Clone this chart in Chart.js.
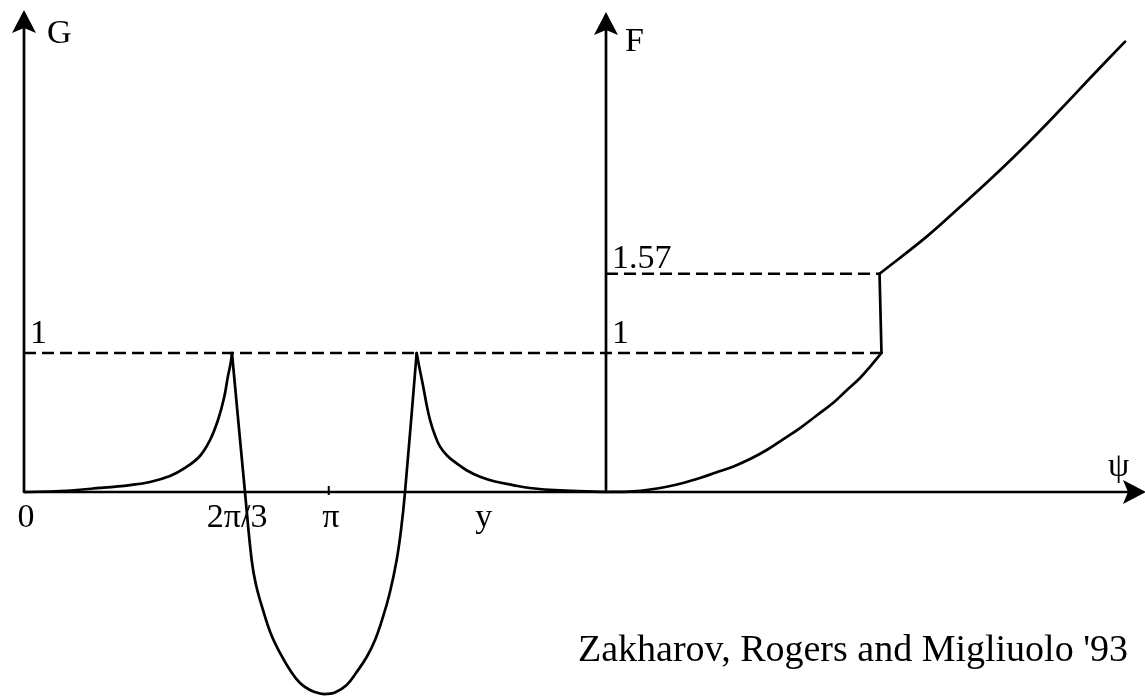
<!DOCTYPE html>
<html>
<head>
<meta charset="utf-8">
<title>G and F versus psi</title>
<script src="https://cdn.jsdelivr.net/npm/chart.js@4.4.0/dist/chart.umd.min.js"></script>
<style>
  html, body { margin: 0; padding: 0; background: #fff; }
  canvas { display: block; }
</style>
</head>
<body>
<canvas id="sketch" width="1145" height="696"></canvas>
<script>
// G(psi): slow rise to the cusp at 2pi/3
const riseLeftPsi = [0, 0.371, 0.784, 1.093, 1.299, 1.505, 1.660, 1.814, 1.918, 2.000, 2.062, 2.103, 2.129, 2.144];
const riseLeftG   = [0, 0.007, 0.029, 0.050, 0.072, 0.115, 0.173, 0.259, 0.374, 0.518, 0.676, 0.835, 0.921, 1.0];

// G(psi): the dip below zero between the two cusps
const dipPsi = [2.144, 2.278, 2.347, 2.392, 2.464, 2.546, 2.639, 2.742, 2.845, 2.948, 3.052, 3.124,
                3.206, 3.327, 3.423, 3.533, 3.619, 3.701, 3.773, 3.842, 3.887, 3.928, 4.048];
const dipG   = [1.0, 0, -0.489, -0.669, -0.849, -1.022, -1.158, -1.281, -1.374, -1.424, -1.450, -1.453,
                -1.442, -1.388, -1.302, -1.187, -1.065, -0.899, -0.719, -0.489, -0.273, 0, 1.0];

// G(psi): decay after the second cusp
const decayPsi = [4.048, 4.077, 4.116, 4.149, 4.186, 4.232, 4.289, 4.366, 4.461, 4.567, 4.701, 4.856,
                  5.041, 5.216, 5.526, 5.938, 6.0];
const decayG   = [1.0, 0.892, 0.758, 0.633, 0.518, 0.417, 0.326, 0.259, 0.206, 0.155, 0.110, 0.076,
                  0.050, 0.029, 0.011, 0.001, 0];

// F(psi): lower branch, jump, upper branch
const fLowPsi  = [6.0, 6.144, 6.278, 6.454, 6.626, 6.794, 6.969, 7.134, 7.309, 7.485, 7.657, 7.825,
                  8.0, 8.165, 8.340, 8.474, 8.619, 8.732, 8.84];
const fLowF    = [0, 0.001, 0.004, 0.018, 0.038, 0.065, 0.101, 0.140, 0.182, 0.237, 0.302, 0.378,
                  0.460, 0.547, 0.640, 0.727, 0.820, 0.910, 1.0];
const fJumpPsi = [8.84, 8.82];
const fJumpF   = [1.0, 1.57];
const fHighPsi = [8.82, 9.306, 9.649, 9.990, 10.340, 10.680, 11.021, 11.351];
const fHighF   = [1.57, 1.837, 2.050, 2.268, 2.504, 2.748, 3.0, 3.240];

// reference levels and axis positions
const unitLevel = 1;
const jumpLevel = 1.57;
const fAxisPsi = 6.0;
const unitLineEnd = 8.84;

// tick labels under the psi axis
const tickValues = [0, 2 * Math.PI / 3, Math.PI, 4.72];
const tickLabels = ['0', '2\u03C0/3', '\u03C0', 'y'];
const tickMarks = [Math.PI];

const credit = "Zakharov, Rogers and Migliuolo '93";

const LINE_W = 2.7;

const toPoints = (xs, ys) => xs.map((x, i) => ({ x: x, y: ys[i] }));

const curve = (xs, ys) => ({
    data: toPoints(xs, ys),
    showLine: true,
    borderColor: '#000',
    borderWidth: LINE_W,
    pointRadius: 0,
    tension: 0.4,
    borderCapStyle: 'round',
    borderJoinStyle: 'round'
});

const dashed = (x0, x1, level) => ({
    data: [{ x: x0, y: level }, { x: x1, y: level }],
    showLine: true,
    borderColor: '#000',
    borderWidth: 2.5,
    borderDash: [12, 6],
    pointRadius: 0
});

const SERIF = '"Liberation Serif", "Times New Roman", serif';

function arrowHead(ctx, tipX, tipY, dir) {
    // dir: 'up' or 'right'
    const len = 23, half = 12, notch = 5;
    ctx.beginPath();
    if (dir === 'up') {
        ctx.moveTo(tipX, tipY);
        ctx.lineTo(tipX + half, tipY + len);
        ctx.lineTo(tipX, tipY + len - notch);
        ctx.lineTo(tipX - half, tipY + len);
    } else {
        ctx.moveTo(tipX, tipY);
        ctx.lineTo(tipX - len, tipY - half);
        ctx.lineTo(tipX - len + notch, tipY);
        ctx.lineTo(tipX - len, tipY + half);
    }
    ctx.closePath();
    ctx.fill();
}

const axesPlugin = {
    id: 'axesPlugin',
    beforeDraw(chart) {
        const ctx = chart.ctx;
        ctx.save();
        ctx.fillStyle = '#fff';
        ctx.fillRect(0, 0, chart.width, chart.height);
        ctx.restore();
    },
    beforeDatasetsDraw(chart) {
        const { ctx, scales: { x, y } } = chart;
        const x0 = x.getPixelForValue(0);
        const xF = x.getPixelForValue(fAxisPsi);
        const y0 = y.getPixelForValue(0);
        const xEnd = x.getPixelForValue(x.max);
        const gTip = 10, fTip = 12;

        ctx.save();
        ctx.strokeStyle = '#000';
        ctx.fillStyle = '#000';
        ctx.lineWidth = LINE_W;

        // G axis, F axis, psi axis
        ctx.beginPath();
        ctx.moveTo(x0, y0); ctx.lineTo(x0, gTip + 15);
        ctx.moveTo(xF, y0); ctx.lineTo(xF, fTip + 15);
        ctx.moveTo(x0, y0); ctx.lineTo(xEnd - 15, y0);
        ctx.stroke();
        arrowHead(ctx, x0, gTip, 'up');
        arrowHead(ctx, xF, fTip, 'up');
        arrowHead(ctx, xEnd + 1, y0, 'right');

        // tick marks
        ctx.lineWidth = 2;
        tickMarks.forEach(v => {
            const px = x.getPixelForValue(v);
            ctx.beginPath();
            ctx.moveTo(px, y0 - 6); ctx.lineTo(px, y0 + 3);
            ctx.stroke();
        });

        // text
        ctx.font = '34px ' + SERIF;
        ctx.textBaseline = 'alphabetic';
        ctx.textAlign = 'center';
        tickLabels.forEach((t, i) => {
            ctx.fillText(t, x.getPixelForValue(tickValues[i]) + (i === 1 ? 10 : 2), y0 + 35);
        });

        ctx.textAlign = 'left';
        ctx.fillText('G', x0 + 23, 43);
        ctx.fillText('F', xF + 19, 51);
        ctx.fillText('\u03C8', xEnd - 37, 476);

        const yUnit = y.getPixelForValue(unitLevel);
        const yJump = y.getPixelForValue(jumpLevel);
        ctx.fillText('1', x0 + 6, yUnit - 10);
        ctx.fillText('1', xF + 6, yUnit - 10);
        ctx.fillText('1.57', xF + 6, yJump - 6);

        ctx.font = '38px ' + SERIF;
        ctx.fillText(credit, 578, 661);
        ctx.restore();
    }
};

new Chart(document.getElementById('sketch'), {
    type: 'scatter',
    data: {
        datasets: [
            dashed(0, unitLineEnd, unitLevel),
            dashed(fAxisPsi, fJumpPsi[1], jumpLevel),
            curve(riseLeftPsi, riseLeftG),
            curve(dipPsi, dipG),
            curve(decayPsi, decayG),
            curve(fLowPsi, fLowF),
            curve(fJumpPsi, fJumpF),
            curve(fHighPsi, fHighF)
        ]
    },
    options: {
        responsive: false,
        animation: false,
        devicePixelRatio: 1,
        layout: { padding: 0 },
        plugins: { legend: { display: false }, tooltip: { enabled: false } },
        scales: {
            x: { type: 'linear', min: -24 / 97, max: 1121 / 97, display: false },
            y: { type: 'linear', min: -204 / 139, max: 492 / 139, display: false }
        }
    },
    plugins: [axesPlugin]
});
</script>
</body>
</html>
